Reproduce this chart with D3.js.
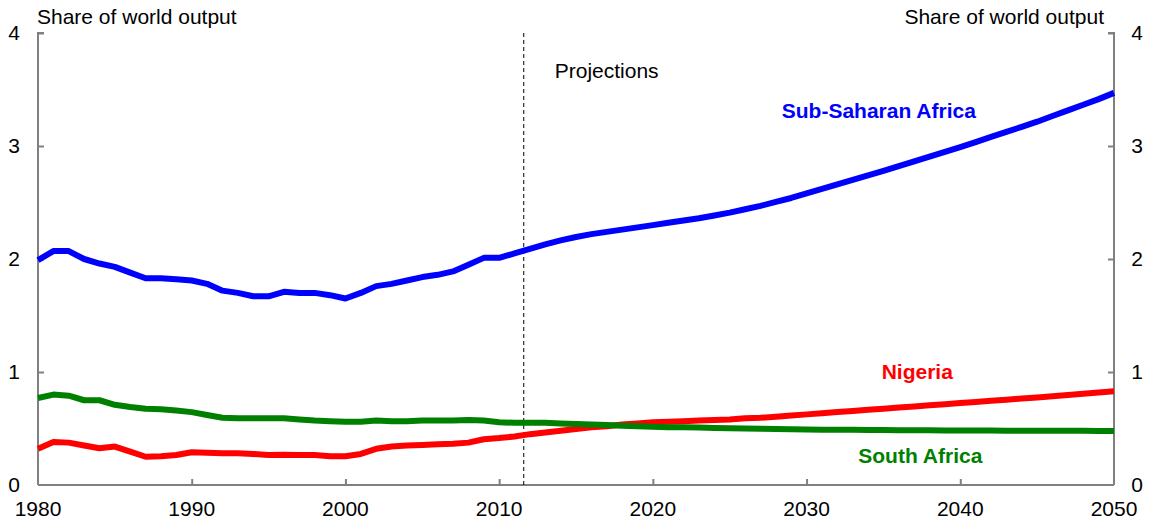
<!DOCTYPE html>
<html>
<head>
<meta charset="utf-8">
<script src="https://cdn.jsdelivr.net/npm/d3@7"></script>
<style>
  html, body { margin: 0; padding: 0; background: #fff; }
  svg { display: block; font-family: "Liberation Sans", Arial, sans-serif; }
</style>
</head>
<body>
<svg id="chart" width="1150" height="529"></svg>
<script>
// ---- Data ----
const years = d3.range(1980, 2051);
const subSaharanAfrica = [
  1.99, 2.07, 2.07, 2.00, 1.96, 1.93, 1.88, 1.83, 1.83, 1.82,
  1.81, 1.78, 1.72, 1.70, 1.67, 1.67, 1.71, 1.70, 1.70, 1.68,
  1.65, 1.70, 1.76, 1.78, 1.81, 1.84, 1.86, 1.89, 1.95, 2.01,
  2.01, 2.05, 2.09, 2.13, 2.165, 2.195, 2.22, 2.24, 2.26, 2.28,
  2.30, 2.32, 2.34, 2.36, 2.385, 2.41, 2.44, 2.47, 2.505, 2.54,
  2.58, 2.62, 2.66, 2.70, 2.74, 2.78, 2.822, 2.864, 2.906, 2.948,
  2.99, 3.035, 3.08, 3.125, 3.17, 3.215, 3.265, 3.315, 3.365, 3.415,
  3.47
];
const nigeria = [
  0.32, 0.38, 0.375, 0.35, 0.325, 0.34, 0.295, 0.25, 0.255, 0.265,
  0.29, 0.285, 0.28, 0.28, 0.275, 0.265, 0.268, 0.265, 0.265, 0.255,
  0.255, 0.275, 0.32, 0.34, 0.35, 0.355, 0.36, 0.365, 0.375, 0.405,
  0.415, 0.43, 0.45, 0.465, 0.48, 0.495, 0.51, 0.52, 0.535, 0.545,
  0.555, 0.56, 0.565, 0.57, 0.575, 0.58, 0.59, 0.595, 0.605, 0.615,
  0.625, 0.635, 0.645, 0.655, 0.665, 0.675, 0.685, 0.695, 0.705, 0.715,
  0.725, 0.735, 0.745, 0.755, 0.765, 0.775, 0.786, 0.797, 0.808, 0.819,
  0.83
];
const southAfrica = [
  0.77, 0.80, 0.79, 0.75, 0.75, 0.71, 0.69, 0.675, 0.67, 0.66,
  0.645, 0.62, 0.595, 0.59, 0.59, 0.59, 0.59, 0.58, 0.57, 0.565,
  0.56, 0.56, 0.57, 0.565, 0.565, 0.57, 0.57, 0.57, 0.575, 0.57,
  0.555, 0.55, 0.55, 0.55, 0.545, 0.54, 0.535, 0.53, 0.525, 0.52,
  0.515, 0.512, 0.51, 0.508, 0.505, 0.503, 0.50, 0.498, 0.496, 0.494,
  0.492, 0.49, 0.489, 0.488, 0.487, 0.486, 0.485, 0.484, 0.484, 0.483,
  0.483, 0.482, 0.482, 0.481, 0.481, 0.48, 0.48, 0.479, 0.479, 0.478,
  0.478
];
const xTicks = [1980, 1990, 2000, 2010, 2020, 2030, 2040, 2050];
const yTicks = [0, 1, 2, 3, 4];
const projectionStart = 2011.6;
const axisTitle = "Share of world output";
const seriesLabels = [
  { name: "Sub-Saharan Africa", data: subSaharanAfrica, color: "#0000ff", lx: 2034.7, ly: 3.31 },
  { name: "Nigeria", data: nigeria, color: "#ff0000", lx: 2037.2, ly: 1.0 },
  { name: "South Africa", data: southAfrica, color: "#008000", lx: 2037.4, ly: 0.26 }
];

// ---- Layout ----
const svg = d3.select("#chart");
const mLeft = 38, mRight = 1114, mTop = 33, mBottom = 485;
const x = d3.scaleLinear().domain([1980, 2050]).range([mLeft, mRight]);
const y = d3.scaleLinear().domain([0, 4]).range([mBottom, mTop]);
const axisColor = "#808080";

// Axes
const gAxes = svg.append("g");
const leftAxis = gAxes.append("g").attr("transform", `translate(${mLeft},0)`)
  .call(d3.axisRight(y).tickValues(yTicks).tickSize(6).tickFormat(""));
const rightAxis = gAxes.append("g").attr("transform", `translate(${mRight},0)`)
  .call(d3.axisLeft(y).tickValues(yTicks).tickSize(6).tickFormat(""));
const bottomAxis = gAxes.append("g").attr("transform", `translate(0,${mBottom})`)
  .call(d3.axisTop(x).tickValues(xTicks).tickSize(6).tickFormat(""));
[leftAxis, rightAxis, bottomAxis].forEach(a => {
  a.selectAll("path.domain").attr("stroke", axisColor).attr("stroke-width", 2);
  a.selectAll(".tick line").attr("stroke", axisColor).attr("stroke-width", 2);
});
leftAxis.selectAll(".tick").filter(d => d === 0).remove();
rightAxis.selectAll(".tick").filter(d => d === 0).remove();
bottomAxis.selectAll(".tick").filter(d => d === 1980 || d === 2050).remove();
leftAxis.select("path.domain").attr("d", `M6,${mTop}H0V${mBottom}`);
rightAxis.select("path.domain").attr("d", `M-6,${mTop}H0V${mBottom}`);
bottomAxis.select("path.domain").attr("d", `M${mLeft},0H${mRight}`);

// Tick labels
const fs = 21;
svg.append("g").selectAll("text").data(yTicks).join("text")
  .attr("x", 14).attr("y", d => y(d)).attr("dy", "0.35em")
  .attr("text-anchor", "middle").attr("font-size", fs).attr("fill", "#000")
  .text(d => d);
svg.append("g").selectAll("text").data(yTicks).join("text")
  .attr("x", 1137).attr("y", d => y(d)).attr("dy", "0.35em")
  .attr("text-anchor", "middle").attr("font-size", fs).attr("fill", "#000")
  .text(d => d);
svg.append("g").selectAll("text").data(xTicks).join("text")
  .attr("x", d => x(d)).attr("y", 509).attr("dy", "0.35em")
  .attr("text-anchor", "middle").attr("font-size", fs).attr("fill", "#000")
  .text(d => d);

// Axis titles
svg.append("text").attr("x", 37).attr("y", 24).attr("font-size", fs)
  .attr("fill", "#000").text(axisTitle);
svg.append("text").attr("x", 1104).attr("y", 24).attr("font-size", fs)
  .attr("text-anchor", "end").attr("fill", "#000").text(axisTitle);

// Projection marker
svg.append("line")
  .attr("x1", x(projectionStart)).attr("x2", x(projectionStart))
  .attr("y1", y(4)).attr("y2", y(0))
  .attr("stroke", "#000").attr("stroke-width", 1).attr("stroke-dasharray", "4,3");
svg.append("text").attr("x", x(projectionStart) + 31).attr("y", 71).attr("dy", "0.35em")
  .attr("font-size", fs).attr("fill", "#000").text("Projections");

// Lines
const line = d3.line().x((d, i) => x(years[i])).y(d => y(d));
svg.append("g").selectAll("path").data(seriesLabels).join("path")
  .attr("d", s => line(s.data))
  .attr("fill", "none").attr("stroke", s => s.color)
  .attr("stroke-width", 6).attr("stroke-linejoin", "round");

// Series labels
svg.append("g").selectAll("text").data(seriesLabels).join("text")
  .attr("x", s => x(s.lx)).attr("y", s => y(s.ly)).attr("dy", "0.35em")
  .attr("text-anchor", "middle").attr("font-size", fs).attr("font-weight", "bold")
  .attr("fill", s => s.color).text(s => s.name);
</script>
</body>
</html>
